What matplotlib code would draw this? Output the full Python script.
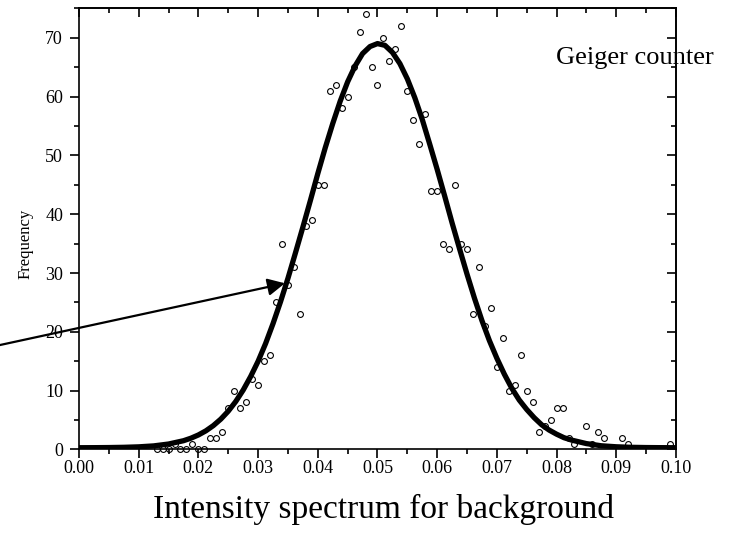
import matplotlib
matplotlib.use('Agg')
import matplotlib.pyplot as plt
import matplotlib.ticker as ticker

# measured counts (x step 0.001)
count_x = [0.013, 0.014, 0.015, 0.016, 0.017, 0.018, 0.019, 0.020, 0.021,
           0.022, 0.023, 0.024, 0.025, 0.026, 0.027, 0.028, 0.029, 0.030, 0.031,
           0.032, 0.033, 0.034, 0.035, 0.036, 0.037, 0.038, 0.039, 0.040, 0.041,
           0.042, 0.043, 0.044, 0.045, 0.046, 0.047, 0.048, 0.049, 0.050, 0.051,
           0.052, 0.053, 0.054, 0.055, 0.056, 0.057, 0.058, 0.059, 0.060, 0.061,
           0.062, 0.063, 0.064, 0.065, 0.066, 0.067, 0.068, 0.069, 0.070, 0.071,
           0.072, 0.073, 0.074, 0.075, 0.076, 0.077, 0.078, 0.079, 0.080, 0.081,
           0.082, 0.083, 0.085, 0.086, 0.087, 0.088, 0.091, 0.092, 0.099]
count_y = [0, 0, 0, 1, 0, 0, 1, 0, 0,
           2, 2, 3, 7, 10, 7, 8, 12, 11, 15,
           16, 25, 35, 28, 31, 23, 38, 39, 45, 45,
           61, 62, 58, 60, 65, 71, 74, 65, 62, 70,
           66, 68, 72, 61, 56, 52, 57, 44, 44, 35,
           34, 45, 35, 34, 23, 31, 21, 24, 14, 19,
           10, 11, 16, 10, 8, 3, 4, 5, 7, 7,
           2, 1, 4, 1, 3, 2, 2, 1, 1]

# fitted curve
curve_x = [0.0, 0.0025, 0.005, 0.0075, 0.01, 0.0125, 0.015, 0.0175, 0.01875,
           0.02, 0.02125, 0.0225, 0.02375, 0.025, 0.02625, 0.0275, 0.02875,
           0.03, 0.03125, 0.0325, 0.03375, 0.035, 0.03625, 0.0375, 0.03875,
           0.04, 0.04125, 0.0425, 0.04375, 0.045, 0.04625, 0.0475, 0.04875,
           0.05, 0.05125, 0.0525, 0.05375, 0.055, 0.05625, 0.0575, 0.05875,
           0.06, 0.06125, 0.0625, 0.06375, 0.065, 0.06625, 0.0675, 0.06875,
           0.07, 0.07125, 0.0725, 0.07375, 0.075, 0.07625, 0.0775, 0.07875,
           0.08, 0.08125, 0.0825, 0.085, 0.0875, 0.09, 0.0925, 0.095, 0.0975, 0.1]
curve_y = [0.30, 0.31, 0.33, 0.37, 0.45, 0.61, 0.93, 1.49, 1.92,
           2.47, 3.17, 4.06, 5.16, 6.51, 8.15, 10.1, 12.4,
           15.0, 18.0, 21.4, 25.1, 29.1, 33.4, 37.8, 42.3,
           46.9, 51.3, 55.4, 59.2, 62.5, 65.2, 67.3, 68.5,
           69.0, 68.7, 67.5, 65.6, 63.0, 59.8, 56.1, 51.9,
           47.6, 43.1, 38.5, 34.1, 29.8, 25.7, 21.9, 18.5,
           15.5, 12.8, 10.4, 8.4, 6.8, 5.4, 4.2, 3.3,
           2.6, 2.0, 1.6, 1.0, 0.63, 0.46, 0.37, 0.33, 0.31, 0.30]

rcParams = {
    'font.family': ['Liberation Serif', 'DejaVu Serif'],
    'font.size': 13,
    'axes.linewidth': 1.2,
    'xtick.major.size': 6.5,
    'xtick.minor.size': 3.5,
    'ytick.major.size': 6.5,
    'ytick.minor.size': 3.5,
    'xtick.major.width': 1.2,
    'xtick.minor.width': 1.2,
    'ytick.major.width': 1.2,
    'ytick.minor.width': 1.2,
    'xtick.direction': 'out',
    'ytick.direction': 'out',
}
plt.rcParams.update(rcParams)

fig = plt.figure(figsize=(7.33, 5.42), dpi=100)
ax = fig.add_axes([0.1078, 0.1707, 0.8144, 0.814])

ax.plot(count_x, count_y, linestyle='none', marker='o', markersize=4.2,
        markerfacecolor='none', markeredgecolor='black', markeredgewidth=0.8,
        clip_on=False, zorder=2)
ax.plot(curve_x, curve_y, color='black', linewidth=3.8, solid_joinstyle='round',
        zorder=3)

ax.set_xlim(0, 0.1)
ax.set_ylim(0, 75)

ax.xaxis.set_major_locator(ticker.MultipleLocator(0.01))
ax.xaxis.set_minor_locator(ticker.MultipleLocator(0.005))
ax.xaxis.set_major_formatter(ticker.FormatStrFormatter('%.2f'))
ax.yaxis.set_major_locator(ticker.MultipleLocator(10))
ax.yaxis.set_minor_locator(ticker.MultipleLocator(5))
ax.tick_params(axis='x', which='major', labelsize=13, pad=1)
ax.tick_params(axis='y', which='major', labelsize=13, pad=5)

# top and right: ticks pointing inward, no labels
top = ax.secondary_xaxis('top')
top.xaxis.set_major_locator(ticker.MultipleLocator(0.01))
top.xaxis.set_minor_locator(ticker.MultipleLocator(0.005))
top.tick_params(which='both', direction='in', labeltop=False)
right = ax.secondary_yaxis('right')
right.yaxis.set_major_locator(ticker.MultipleLocator(10))
right.yaxis.set_minor_locator(ticker.MultipleLocator(5))
right.tick_params(which='both', direction='in', labelright=False)

ax.set_ylabel('Frequency', fontsize=12)
ax.yaxis.set_label_coords(-0.077, 0.466)

ax.text(0.0799, 65.5, 'Geiger counter', fontsize=19, clip_on=False)

ax.annotate('', xy=(0.0345, 28.25), xytext=(-0.0135, 17.7),
            arrowprops=dict(arrowstyle='-|>', color='black', lw=1.6,
                            mutation_scale=26, shrinkA=0, shrinkB=0),
            annotation_clip=False)

fig.text(0.523, 0.045, 'Intensity spectrum for background', fontsize=24,
         ha='center', va='baseline')

plt.savefig('out.png', dpi=100)
